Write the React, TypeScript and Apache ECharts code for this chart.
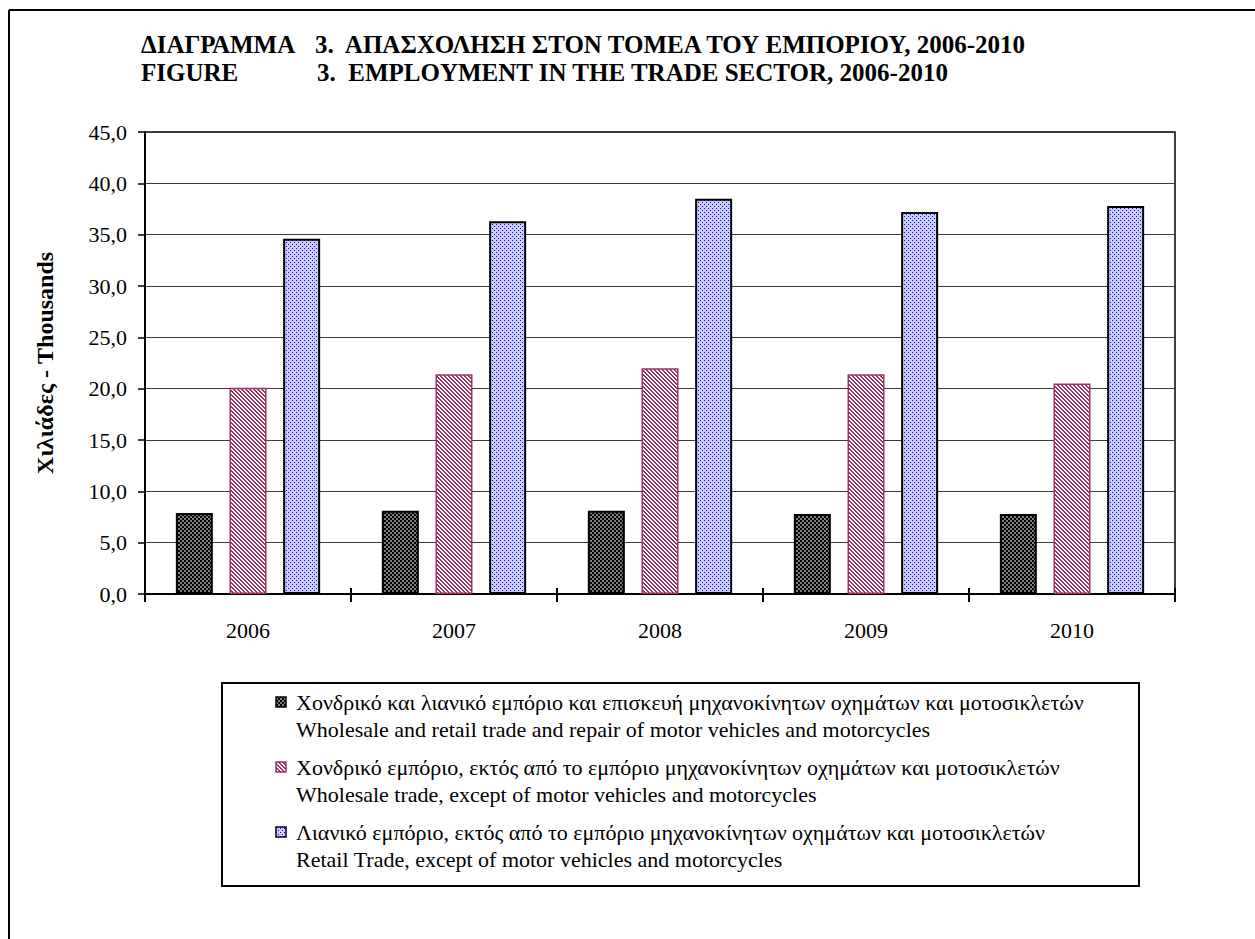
import React, { useEffect, useRef } from "react";
import * as echarts from "echarts";

const years = ["2006", "2007", "2008", "2009", "2010"];
const motorTrade = [7.9, 8.1, 8.1, 7.8, 7.8];
const wholesale = [20.1, 21.4, 22.0, 21.4, 20.5];
const retail = [34.6, 36.3, 38.5, 37.2, 37.8];

const namesGr = [
  "Χονδρικό και λιανικό εμπόριο και επισκευή μηχανοκίνητων οχημάτων και μοτοσικλετών",
  "Χονδρικό εμπόριο, εκτός από το εμπόριο μηχανοκίνητων οχημάτων και μοτοσικλετών",
  "Λιανικό εμπόριο, εκτός από το εμπόριο μηχανοκίνητων οχημάτων και μοτοσικλετών",
];
const namesEn = [
  "Wholesale and retail trade and repair of motor vehicles and motorcycles",
  "Wholesale trade, except of motor vehicles and motorcycles",
  "Retail Trade, except of motor vehicles and motorcycles",
];

const titleGr = ["ΔΙΑΓΡΑΜΜΑ", "3.  ΑΠΑΣΧΟΛΗΣΗ ΣΤΟΝ ΤΟΜΕΑ ΤΟΥ ΕΜΠΟΡΙΟΥ, 2006-2010"];
const titleEn = ["FIGURE", "3.  EMPLOYMENT IN THE TRADE SECTOR, 2006-2010"];
const yAxisName = "Χιλιάδες - Thousands";

const FONT = "'Liberation Serif', 'Times New Roman', serif";

function makePattern(kind: string) {
  const size = 4;
  const c = document.createElement("canvas");
  c.width = size;
  c.height = size;
  const ctx = c.getContext("2d")!;
  if (kind === "check") {
    ctx.fillStyle = "#808080";
    ctx.fillRect(0, 0, 4, 4);
    ctx.fillStyle = "#000000";
    ctx.fillRect(0, 0, 2, 2);
    ctx.fillRect(2, 2, 2, 2);
  } else if (kind === "stripe") {
    for (let y = 0; y < 4; y++) {
      for (let x = 0; x < 4; x++) {
        const m = (((x - y) % 4) + 4) % 4;
        ctx.fillStyle = m < 2 ? "#993366" : "#ffffff";
        ctx.fillRect(x, y, 1, 1);
      }
    }
  } else {
    ctx.fillStyle = "#ccccff";
    ctx.fillRect(0, 0, 4, 4);
    ctx.fillStyle = "#0000ff";
    ctx.fillRect(0, 0, 1, 1);
    ctx.fillRect(2, 2, 1, 1);
  }
  return { image: c.toDataURL(), repeat: "repeat", imageWidth: size, imageHeight: size } as any;
}

export default function App() {
  const ref = useRef<HTMLDivElement>(null);
  useEffect(() => {
    document.body.style.margin = "0";
    const chart = echarts.init(ref.current!, null, { renderer: "svg" });
    const pats = [makePattern("check"), makePattern("stripe"), makePattern("dots")];
    const borders = ["#000000", "#993366", "#000000"];
    const data = [motorTrade, wholesale, retail];

    const legendX = 276;
    const legendTextX = 296;
    const entryY = [702, 767, 832];
    const legendGraphics: any[] = [];
    for (let i = 0; i < 3; i++) {
      legendGraphics.push({
        type: "rect",
        shape: { x: legendX, y: entryY[i] - 5, width: 10, height: 10 },
        style: { fill: pats[i], stroke: i === 1 ? "#993366" : "#000", lineWidth: 1.5 },
      });
      legendGraphics.push({
        type: "text",
        x: legendTextX,
        y: entryY[i],
        style: { text: namesGr[i], font: `22px ${FONT}`, fill: "#000", verticalAlign: "middle" },
      });
      legendGraphics.push({
        type: "text",
        x: legendTextX,
        y: entryY[i] + 27,
        style: { text: namesEn[i], font: `22px ${FONT}`, fill: "#000", verticalAlign: "middle" },
      });
    }

    chart.setOption({
      animation: false,
      backgroundColor: "#ffffff",
      grid: {
        left: 145,
        right: 80,
        top: 132,
        bottom: 345,
        show: true,
        borderColor: "#000",
        borderWidth: 1.5,
        backgroundColor: "transparent",
      },
      xAxis: [
        {
          type: "category",
          data: years,
          position: "bottom",
          axisLine: { lineStyle: { color: "#000", width: 2 } },
          axisTick: { show: true, length: 8, lineStyle: { color: "#000", width: 2 } },
          axisLabel: { margin: 25, color: "#000", fontSize: 22, fontFamily: FONT },
        },
        {
          type: "category",
          data: years,
          position: "bottom",
          offset: 0,
          axisLine: { show: false },
          axisTick: { show: true, inside: true, length: 6, lineStyle: { color: "#000", width: 2 } },
          axisLabel: { show: false },
          splitLine: { show: false },
        },
      ],
      yAxis: {
        type: "value",
        min: 0,
        max: 45,
        interval: 5,
        name: yAxisName,
        nameLocation: "middle",
        nameRotate: 90,
        nameGap: 88,
        nameTextStyle: { fontSize: 24, fontWeight: "bold", fontFamily: FONT, color: "#000" },
        axisLine: { show: true, lineStyle: { color: "#000", width: 2 } },
        axisTick: { show: true, length: 7, lineStyle: { color: "#000", width: 1.5 } },
        axisLabel: {
          margin: 18,
          color: "#000",
          fontSize: 22,
          fontFamily: FONT,
          formatter: (v: number) => v.toFixed(1).replace(".", ","),
        },
        splitLine: { show: true, lineStyle: { color: "#3a3a3a", width: 1 } },
      },
      series: data.map((d, i) => ({
        type: "bar",
        name: namesEn[i],
        xAxisIndex: 0,
        data: d,
        barWidth: 37,
        barGap: "45%",
        itemStyle: { color: pats[i], borderColor: borders[i], borderWidth: i === 1 ? 1.5 : 2 },
      })),
      graphic: [
        {
          type: "line",
          shape: { x1: 9, y1: 10, x2: 1255, y2: 10 },
          style: { stroke: "#000", lineWidth: 2 },
        },
        {
          type: "line",
          shape: { x1: 9, y1: 10, x2: 9, y2: 939 },
          style: { stroke: "#000", lineWidth: 2 },
        },
        {
          type: "text",
          x: 141,
          y: 44,
          style: { text: titleGr[0], font: `bold 25px ${FONT}`, fill: "#000", verticalAlign: "middle" },
        },
        {
          type: "text",
          x: 315,
          y: 44,
          style: { text: titleGr[1], font: `bold 25px ${FONT}`, fill: "#000", verticalAlign: "middle" },
        },
        {
          type: "text",
          x: 141,
          y: 72,
          style: { text: titleEn[0], font: `bold 25px ${FONT}`, fill: "#000", verticalAlign: "middle" },
        },
        {
          type: "text",
          x: 317,
          y: 72,
          style: { text: titleEn[1], font: `bold 25px ${FONT}`, fill: "#000", verticalAlign: "middle" },
        },
        {
          type: "rect",
          shape: { x: 222, y: 683, width: 917, height: 203 },
          style: { fill: "#fff", stroke: "#000", lineWidth: 2 },
          z: 0,
        },
        ...legendGraphics.map((g) => ({ ...g, z: 10 })),
      ],
    });
    return () => chart.dispose();
  }, []);
  return <div ref={ref} style={{ width: 1255, height: 939 }} />;
}
